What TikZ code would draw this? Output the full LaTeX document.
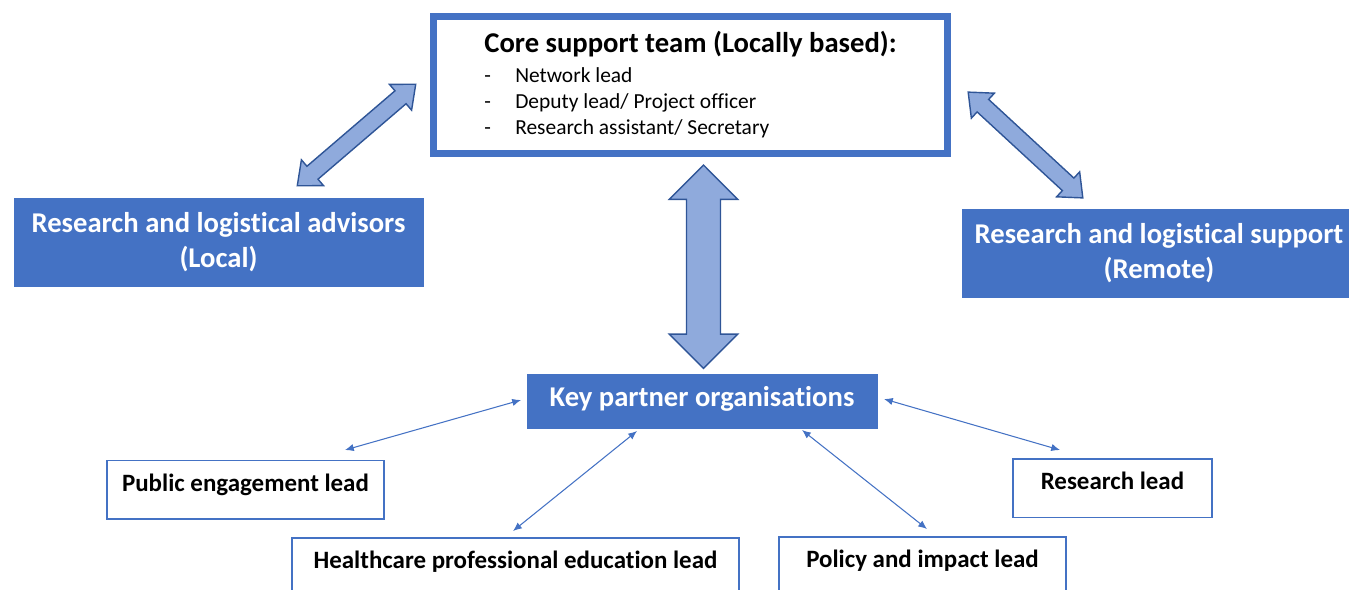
\documentclass[tikz,border=0pt]{standalone}
\usepackage{fontspec}
\setmainfont[Ligatures=NoCommon]{Carlito}
\usetikzlibrary{arrows.meta,positioning}
\definecolor{boxblue}{HTML}{4472C4}
\definecolor{arrowfill}{HTML}{8FAADC}
\definecolor{arrowline}{HTML}{2F5597}
\tikzstyle{corebox}=[draw=boxblue, line width=3.97pt, fill=white, minimum width=10.28cm, minimum height=2.74cm, inner sep=0pt, font=\fontsize{12.2}{15}\selectfont]
\tikzstyle{bluebox}=[fill=boxblue, draw=boxblue, text=white, align=center, inner sep=0pt, font=\bfseries\fontsize{16.3}{20.2}\selectfont]
\tikzstyle{leadbox}=[draw=boxblue, line width=0.85pt, fill=white, minimum height=1.17cm, inner sep=0pt, text height=12pt, text depth=9.8pt, font=\bfseries\fontsize{14.2}{16}\selectfont]
\tikzstyle{blkarrow}=[draw=arrowline, fill=arrowfill, line width=0.8pt, line join=miter]
\tikzstyle{thinarr}=[draw=boxblue, line width=0.6pt, {Latex[length=5pt,width=4.2pt]}-{Latex[length=5pt,width=4.2pt]}]
\newcommand{\titlefont}{\bfseries\fontsize{16.3}{18}\selectfont}
% wide two-headed arrow: centre, angle, half length, head length, half head, half shaft
\newcommand{\blockarrow}[6]{%
  \begin{scope}[shift={#1},rotate=#2]
    \draw[blkarrow] (-#3,0) -- (-#3+#4,#5) -- (-#3+#4,#6) -- (#3-#4,#6) -- (#3-#4,#5) -- (#3,0)
      -- (#3-#4,-#5) -- (#3-#4,-#6) -- (-#3+#4,-#6) -- (-#3+#4,-#5) -- cycle;
  \end{scope}}

\begin{document}
\begin{tikzpicture}[x=0.02cm,y=-0.02cm]
\useasboundingbox (0,0) rectangle (1349,589);

% core team
\node (core) [corebox] at (690.5,85) {\begin{tabular}{@{}l@{}}
  \rule{0pt}{14.6pt}{\titlefont Core support team (Locally based):}\\[1.8pt]
  \makebox[17.6pt][l]{-}Network lead\\
  \makebox[17.6pt][l]{-}Deputy lead/ Project officer\\
  \makebox[17.6pt][l]{-}Research assistant/ Secretary
  \end{tabular}};

% advisors and support
\node (adv) [bluebox, minimum width=8.18cm, minimum height=1.76cm] at (218.5,242) {Research and logistical advisors\\(Local)};
\node (sup) [bluebox, minimum width=7.88cm, minimum height=1.76cm] at (1159,253) {Research and logistical support\\(Remote)};
\node (key) [bluebox, minimum width=7cm, minimum height=1.08cm, text height=11.5pt, text depth=5.5pt] at (702,401) {Key partner organisations};

% leads
\node (pub) [leadbox, minimum width=5.54cm] at (245.5,489.5) {Public engagement lead};
\node (hc) [leadbox, minimum width=8.94cm] at (515.5,567) {Healthcare professional education lead};
\node (pol) [leadbox, minimum width=5.74cm] at (922.5,566) {Policy and impact lead};
\node (res) [leadbox, minimum width=3.98cm] at (1112.5,488) {Research lead};

% block arrows
\blockarrow{(356.5,135)}{40.6}{78}{20}{17}{8.5}
\blockarrow{(1025.5,145)}{-42.7}{78}{20}{17}{8.5}
\blockarrow{(703.5,266.7)}{90}{101.7}{34.3}{34.2}{17}

% thin links
\coordinate (pubEnd) at (345,450);
\coordinate (keyW) at (521,400);
\coordinate (hcEnd) at (513,531);
\coordinate (keySW) at (637,431);
\coordinate (keySE) at (802,430);
\coordinate (polEnd) at (927,529);
\coordinate (keyE) at (884,399);
\coordinate (resEnd) at (1060,450);
\draw[thinarr] (pubEnd) -- (keyW);
\draw[thinarr] (hcEnd) -- (keySW);
\draw[thinarr] (keySE) -- (polEnd);
\draw[thinarr] (keyE) -- (resEnd);
\end{tikzpicture}
\end{document}
